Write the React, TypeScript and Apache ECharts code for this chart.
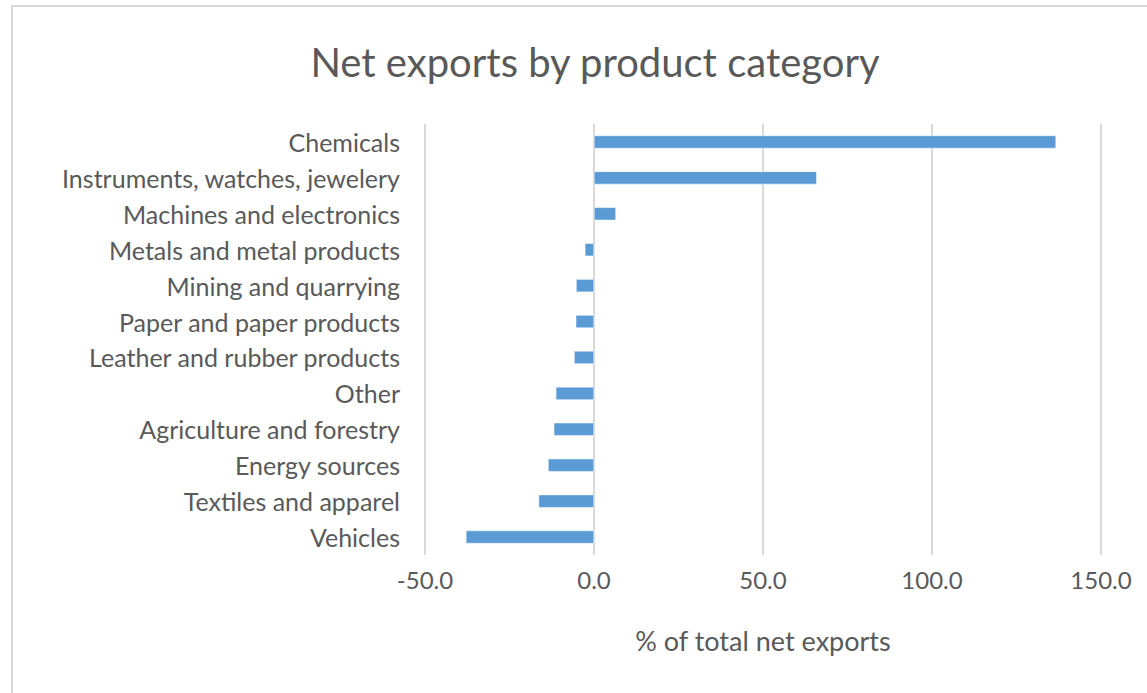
import React, { useEffect, useRef } from "react";
import * as echarts from "echarts";

const categories = [
  "Chemicals",
  "Instruments, watches, jewelery",
  "Machines and electronics",
  "Metals and metal products",
  "Mining and quarrying",
  "Paper and paper products",
  "Leather and rubber products",
  "Other",
  "Agriculture and forestry",
  "Energy sources",
  "Textiles and apparel",
  "Vehicles",
];
const values = [136.7, 65.9, 6.5, -2.7, -5.3, -5.4, -5.9, -11.3, -11.9, -13.6, -16.4, -37.9];
const xTicks = { min: -50, max: 150, interval: 50 };

export default function App() {
  const ref = useRef<HTMLDivElement>(null);
  useEffect(() => {
    if (!ref.current) return;
    const chart = echarts.init(ref.current, null, { renderer: "svg" });
    const font = "Lato, 'Open Sans', sans-serif";
    chart.setOption({
      animation: false,
      backgroundColor: "#ffffff",
      textStyle: { fontFamily: font },
      title: {
        text: "Net exports by product category",
        left: 590,
        top: 37,
        textAlign: "center",
        textStyle: { fontFamily: font, fontSize: 40, fontWeight: "normal", color: "#595959" },
      },
      graphic: [
        {
          type: "rect",
          shape: { x: 12, y: 6, width: 1200, height: 750 },
          style: { fill: "none", stroke: "#d9d9d9", lineWidth: 2 },
          silent: true,
        },
      ],
      grid: { left: 425, right: 46, top: 124, height: 431, containLabel: false },
      xAxis: {
        type: "value",
        min: xTicks.min,
        max: xTicks.max,
        interval: xTicks.interval,
        name: "% of total net exports",
        nameLocation: "middle",
        nameGap: 72,
        nameTextStyle: { fontFamily: font, fontSize: 27, color: "#595959" },
        axisLine: { show: false },
        axisTick: { show: false },
        axisLabel: {
          fontFamily: font,
          fontSize: 24,
          color: "#595959",
          margin: 12,
          formatter: (v: number) => v.toFixed(1),
        },
        splitLine: { show: true, lineStyle: { color: "#d9d9d9", width: 2 } },
      },
      yAxis: {
        type: "category",
        data: categories,
        inverse: true,
        axisLine: { show: false },
        axisTick: { show: false },
        axisLabel: { fontFamily: font, fontSize: 25, color: "#595959", margin: 25 },
      },
      series: [
        {
          type: "bar",
          data: values,
          barWidth: 13,
          itemStyle: { color: "#5b9bd5", borderColor: "#ffffff", borderWidth: 0.5 },
        },
      ],
    });
    return () => chart.dispose();
  }, []);
  return (
    <div
      ref={ref}
      style={{ position: "absolute", left: 0, top: 0, width: 1147, height: 693 }}
    />
  );
}
